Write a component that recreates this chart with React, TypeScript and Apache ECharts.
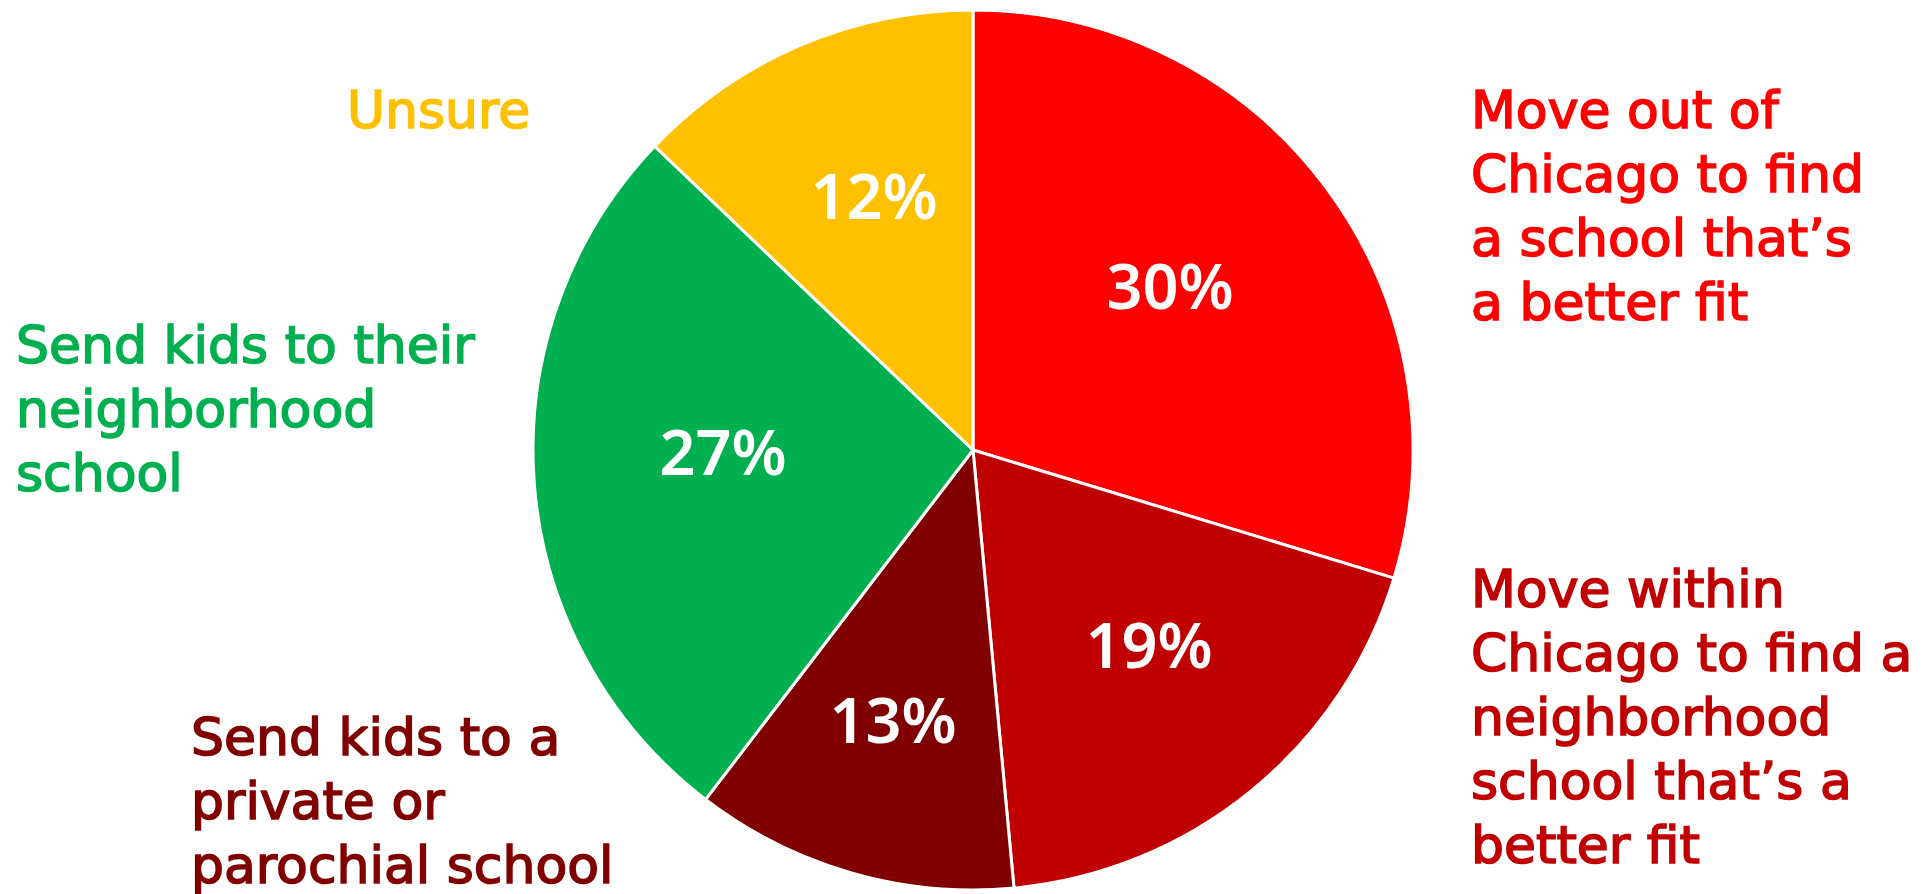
import React, { useEffect, useRef } from "react";
import * as echarts from "echarts";

const categories = [
  "Move out of\nChicago to find\na school that’s\na better fit",
  "Move within\nChicago to find a\nneighborhood\nschool that’s a\nbetter fit",
  "Send kids to a\nprivate or\nparochial school",
  "Send kids to their\nneighborhood\nschool",
  "Unsure",
];
const values = [30, 19, 12, 27, 13];
const pctLabels = ["30%", "19%", "13%", "27%", "12%"];
const colors = ["#FF0000", "#C00000", "#800000", "#00B050", "#FFC000"];

// label anchor positions (layout only)
const pctPos: [number, number][] = [
  [1170, 284],
  [1149, 643],
  [893, 718],
  [723, 450],
  [874, 194],
];
const catPos: [number, number][] = [
  [1471, 78],
  [1471, 557],
  [191, 705],
  [16, 313],
  [347, 78],
];

export default function App() {
  const ref = useRef<HTMLDivElement>(null);
  useEffect(() => {
    if (!ref.current) return;
    const chart = echarts.init(ref.current, undefined, { renderer: "svg" });
    const baseData = values.map((v, i) => ({
      value: v,
      name: categories[i],
      itemStyle: { color: colors[i] },
    }));
    chart.setOption({
      animation: false,
      backgroundColor: "#ffffff",
      series: [
        {
          type: "pie",
          center: [973, 450],
          radius: 440,
          startAngle: 90,
          clockwise: true,
          avoidLabelOverlap: false,
          silent: true,
          emphasis: { disabled: true },
          itemStyle: { borderColor: "#ffffff", borderWidth: 3 },
          label: {
            show: true,
            position: "inside",
            formatter: (p: any) => pctLabels[p.dataIndex],
            color: "#ffffff",
            fontSize: 63,
            fontFamily: "Noto Sans",
            fontWeight: 600,
          },
          labelLine: { show: false },
          labelLayout: (p: any) => ({
            x: pctPos[p.dataIndex][0],
            y: pctPos[p.dataIndex][1],
            align: "center",
            verticalAlign: "middle",
          }),
          data: baseData,
        },
        {
          type: "pie",
          center: [973, 450],
          radius: 440,
          startAngle: 90,
          clockwise: true,
          avoidLabelOverlap: false,
          silent: true,
          emphasis: { disabled: true },
          itemStyle: { color: "rgba(0,0,0,0)", borderWidth: 0 },
          label: {
            show: true,
            position: "outside",
            formatter: (p: any) => categories[p.dataIndex],
            fontSize: 52,
            lineHeight: 64,
            fontFamily: "DejaVu Sans",
            fontWeight: "normal",
          },
          labelLine: { show: false },
          labelLayout: (p: any) => ({
            x: catPos[p.dataIndex][0],
            y: catPos[p.dataIndex][1],
            align: "left",
            verticalAlign: "top",
          }),
          data: values.map((v, i) => ({
            value: v,
            name: categories[i],
            itemStyle: { color: "rgba(0,0,0,0)" },
            label: {
              color: colors[i],
              textBorderColor: colors[i],
              textBorderWidth: 1.6,
            },
          })),
        },
      ],
    });
    return () => chart.dispose();
  }, []);
  return (
    <div
      ref={ref}
      style={{ position: "fixed", left: 0, top: 0, width: 1928, height: 894 }}
    />
  );
}
